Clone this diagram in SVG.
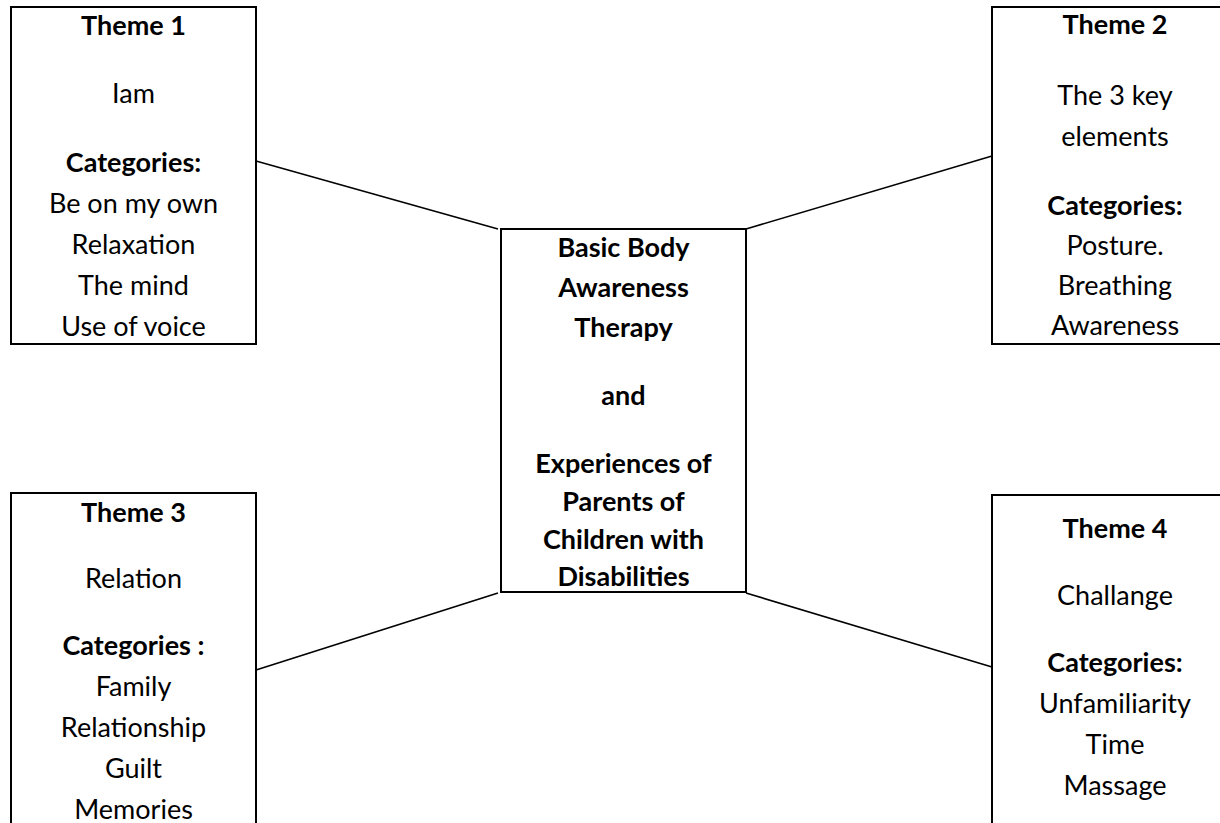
<svg xmlns="http://www.w3.org/2000/svg" width="1220" height="823" viewBox="0 0 1220 823">
<style>
.box{fill:#fff;stroke:#000;stroke-width:2}
.t{font-family:Lato,"Liberation Sans",sans-serif;font-size:27px;text-anchor:middle;fill:#000}
.b{font-weight:bold}
.con line{stroke:#000;stroke-width:1.6}
</style>
<rect width="1220" height="823" fill="#fff"/>
<g id="connectors" class="con">
<line x1="256" y1="161" x2="498" y2="229"/>
<line x1="992" y1="156" x2="746" y2="229"/>
<line x1="256" y1="670" x2="498" y2="593"/>
<line x1="992" y1="667" x2="746" y2="593"/>
</g>
<g id="center">
<rect class="box" x="501" y="229" width="245" height="363"/>
<text class="t b" x="623.5" y="257">Basic Body</text>
<text class="t b" x="623.5" y="297">Awareness</text>
<text class="t b" x="623.5" y="337">Therapy</text>
<text class="t b" x="623.5" y="405">and</text>
<text class="t b" x="623.5" y="473">Experiences of</text>
<text class="t b" x="623.5" y="511">Parents of</text>
<text class="t b" x="623.5" y="549">Children with</text>
<text class="t b" x="623.5" y="586">Disabilities</text>
</g>
<g id="theme1">
<rect class="box" x="11" y="7" width="245" height="337"/>
<text class="t b" x="133.5" y="35">Theme 1</text>
<text class="t" x="133.5" y="103">Iam</text>
<text class="t b" x="133.5" y="172">Categories:</text>
<text class="t" x="133.5" y="213">Be on my own</text>
<text class="t" x="133.5" y="254">Relaxation</text>
<text class="t" x="133.5" y="295">The mind</text>
<text class="t" x="133.5" y="336">Use of voice</text>
</g>
<g id="theme2">
<rect class="box" x="992" y="7" width="248" height="337"/>
<text class="t b" x="1115" y="34">Theme 2</text>
<text class="t" x="1115" y="105">The 3 key</text>
<text class="t" x="1115" y="146">elements</text>
<text class="t b" x="1115" y="215">Categories:</text>
<text class="t" x="1115" y="255">Posture.</text>
<text class="t" x="1115" y="295">Breathing</text>
<text class="t" x="1115" y="335">Awareness</text>
</g>
<g id="theme3">
<rect class="box" x="11" y="493" width="245" height="340"/>
<text class="t b" x="133.5" y="522">Theme 3</text>
<text class="t" x="133.5" y="588">Relation</text>
<text class="t b" x="133.5" y="655">Categories :</text>
<text class="t" x="133.5" y="696">Family</text>
<text class="t" x="133.5" y="737">Relationship</text>
<text class="t" x="133.5" y="778">Guilt</text>
<text class="t" x="133.5" y="819">Memories</text>
</g>
<g id="theme4">
<rect class="box" x="992" y="495" width="248" height="340"/>
<text class="t b" x="1115" y="538">Theme 4</text>
<text class="t" x="1115" y="605">Challange</text>
<text class="t b" x="1115" y="672">Categories:</text>
<text class="t" x="1115" y="713">Unfamiliarity</text>
<text class="t" x="1115" y="754">Time</text>
<text class="t" x="1115" y="795">Massage</text>
</g>
</svg>
